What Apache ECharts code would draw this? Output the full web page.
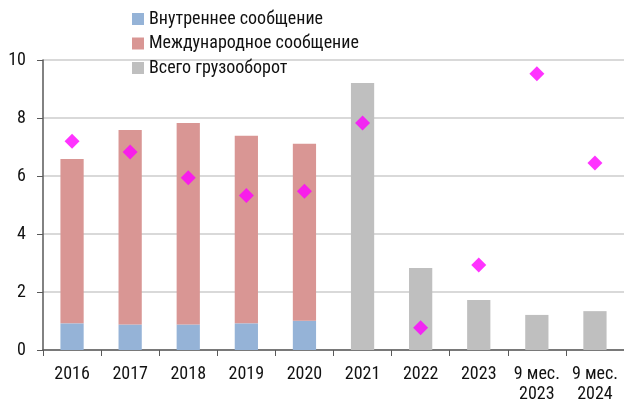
<!DOCTYPE html>
<html>
<head>
<meta charset="utf-8">
<script src="https://cdn.jsdelivr.net/npm/echarts@6/dist/echarts.min.js"></script>
<style>
  html, body { margin: 0; padding: 0; background: #fff; }
  #chart { width: 624px; height: 404px; }
</style>
</head>
<body>
<div id="chart"></div>
<script>
// категории и значения
const categories = ['2016', '2017', '2018', '2019', '2020', '2021', '2022', '2023', '9 мес.\n2023', '9 мес.\n2024']
const domestic = [0.92, 0.88, 0.88, 0.92, 1.01, null, null, null, null, null]
const international = [5.67, 6.71, 6.95, 6.47, 6.10, null, null, null, null, null]
const total = [null, null, null, null, null, 9.21, 2.83, 1.72, 1.21, 1.34]
const markers = [7.2, 6.83, 5.94, 5.33, 5.47, 7.83, 0.77, 2.93, 9.53, 6.45]
const yTicks = { min: 0, max: 10, interval: 2 }

const font = "'Roboto Condensed', 'Liberation Sans Narrow', 'DejaVu Sans Condensed', sans-serif"

let myChart = echarts.init(document.getElementById('chart'))
myChart.setOption({
  animation: false,
  textStyle: { fontFamily: font },
  legend: {
    data: ['Внутреннее сообщение', 'Международное сообщение', 'Всего грузооборот'],
    orient: 'vertical',
    left: 127,
    top: 5,
    itemWidth: 12,
    itemHeight: 12,
    itemGap: 6.5,
    icon: 'rect',
    textStyle: { fontFamily: font, fontSize: 18, color: '#111' }
  },
  grid: {
    left: 43,
    top: 60,
    width: 583,
    height: 290
  },
  xAxis: {
    type: 'category',
    data: categories,
    axisLine: { lineStyle: { color: '#595959', width: 1.5 } },
    axisTick: { show: true, length: 6, lineStyle: { color: '#595959' } },
    axisLabel: {
      interval: 0,
      margin: 14,
      color: '#111',
      fontFamily: font,
      fontSize: 18,
      lineHeight: 20
    }
  },
  yAxis: {
    type: 'value',
    min: yTicks.min,
    max: yTicks.max,
    interval: yTicks.interval,
    axisLine: { show: true, lineStyle: { color: '#595959', width: 1.5 } },
    axisTick: { show: true, length: 6, lineStyle: { color: '#595959' } },
    axisLabel: { margin: 17, color: '#111', fontFamily: font, fontSize: 18 },
    splitLine: { lineStyle: { color: '#D9D9D9', width: 2 } }
  },
  series: [
    {
      name: 'Внутреннее сообщение',
      type: 'bar',
      stack: 'a',
      barWidth: '40%',
      itemStyle: { color: '#95B3D7' },
      data: domestic
    },
    {
      name: 'Международное сообщение',
      type: 'bar',
      stack: 'a',
      itemStyle: { color: '#D99694' },
      data: international
    },
    {
      name: 'Всего грузооборот',
      type: 'bar',
      stack: 'a',
      itemStyle: { color: '#BFBFBF' },
      data: total
    },
    {
      name: 'Маркер',
      type: 'scatter',
      symbol: 'diamond',
      symbolSize: 15,
      itemStyle: { color: '#FF00FF' },
      z: 5,
      data: markers
    }
  ]
})
</script>
</body>
</html>
